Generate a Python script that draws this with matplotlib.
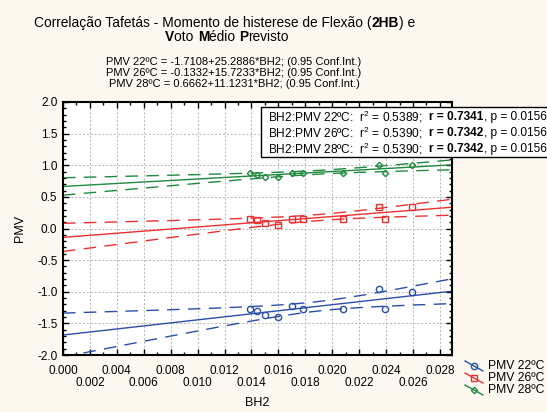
import numpy as np
import matplotlib
import matplotlib.pyplot as plt
from matplotlib.patches import Rectangle
from matplotlib.lines import Line2D
from matplotlib.ticker import MultipleLocator
from matplotlib.transforms import IdentityTransform

plt.rcParams['font.family'] = ['Liberation Sans', 'DejaVu Sans']
plt.rcParams['mathtext.fontset'] = 'custom'
plt.rcParams['mathtext.rm'] = 'Liberation Sans'

# data
bh2 = [0.0139, 0.0144, 0.0150, 0.0160, 0.0170, 0.0178, 0.0208, 0.0235, 0.0239, 0.0259]
pmv22 = [-1.27, -1.30, -1.36, -1.40, -1.23, -1.27, -1.27, -0.96, -1.27, -1.00]
pmv26 = [0.15, 0.13, 0.08, 0.06, 0.15, 0.15, 0.15, 0.34, 0.15, 0.34]
pmv28 = [0.87, 0.84, 0.82, 0.82, 0.88, 0.88, 0.88, 1.00, 0.88, 1.00]

labels = ['PMV 22ºC', 'PMV 26ºC', 'PMV 28ºC']
colors = ['#2b4fa6', '#e83232', '#1f8a3e']
markers = ['o', 's', 'D']
msizes = [4.5, 4.5, 3.2]

equations = ['PMV 22ºC = -1.7108+25.2886*BH2; (0.95 Conf.Int.)',
             'PMV 26ºC = -0.1332+15.7233*BH2; (0.95 Conf.Int.)',
             'PMV 28ºC = 0.6662+11.1231*BH2; (0.95 Conf.Int.)']
r2_vals = ['0.5389', '0.5390', '0.5390']
r_vals = ['0.7341', '0.7342', '0.7342']
p_vals = ['0.0156', '0.0156', '0.0156']

W, H = 547, 412
fig = plt.figure(figsize=(W / 100, H / 100), dpi=100, facecolor='#fcf8ef')
ax = fig.add_axes([63 / W, 1 - 355 / H, (452 - 63) / W, (355 - 102) / H])
ax.set_facecolor('white')

xmin, xmax = 0.0, 0.0289
xs = np.linspace(xmin, xmax, 200)
t_crit = 2.306  # t(0.975, df=8)

x = np.array(bh2)
for yv, c, m, ms in zip([pmv22, pmv26, pmv28], colors, markers, msizes):
    y = np.array(yv)
    b, a = np.polyfit(x, y, 1)
    fit = a + b * xs
    n = len(x)
    s = np.sqrt(np.sum((y - (a + b * x)) ** 2) / (n - 2))
    sxx = np.sum((x - x.mean()) ** 2)
    half = t_crit * s * np.sqrt(1 / n + (xs - x.mean()) ** 2 / sxx)
    ax.plot(xs, fit, color=c, lw=1.0)
    ax.plot(xs, fit + half, color=c, lw=1.0, ls=(0, (9, 6)))
    ax.plot(xs, fit - half, color=c, lw=1.0, ls=(0, (9, 6)))
    ax.plot(x, y, ls='none', marker=m, ms=ms, mfc='none', mec=c, mew=1.0)

ax.set_xlim(xmin, xmax)
ax.set_ylim(-2.0, 2.0)
ax.xaxis.set_minor_locator(MultipleLocator(0.001))
ax.yaxis.set_minor_locator(MultipleLocator(0.1))
ticks = np.arange(0, 0.0281, 0.002)
ax.set_xticks(ticks)
ax.set_xticklabels([('%.3f' % v) if i % 2 == 0 else ('\n%.3f' % v) for i, v in enumerate(ticks)])
for lbl in ax.get_xticklabels():
    lbl.set_linespacing(1.0)
yt = np.arange(-2.0, 2.01, 0.5)
ax.set_yticks(yt)
ax.set_yticklabels(['%.1f' % v for v in yt])
ax.tick_params(which='both', direction='in', top=True, right=True, labelsize=8.5, width=1.0)
ax.tick_params(which='major', length=4)
ax.tick_params(axis='x', which='major', pad=7)
ax.tick_params(axis='y', which='major', pad=4)
ax.tick_params(which='minor', length=2.5)
ax.grid(True, which='major', color='#b5b5b5', ls=(0, (2, 2)), lw=0.7)
for sp in ax.spines.values():
    sp.set_linewidth(1.5)
ax.set_xlabel('BH2', fontsize=9, labelpad=6)
ax.set_ylabel('PMV', fontsize=9, labelpad=8)

rend = fig.canvas.get_renderer()


def text_width(s, size, weight):
    t1 = fig.text(0, 0, '|' + s + '|', fontsize=size, fontweight=weight)
    t2 = fig.text(0, 0, '||', fontsize=size, fontweight=weight)
    w = t1.get_window_extent(rend).width - t2.get_window_extent(rend).width
    t1.remove()
    t2.remove()
    return w


def rich(pieces, y, size, x=None, xc=None):
    widths = [text_width(s, size, w) for s, w in pieces]
    if x is None:
        x = xc - sum(widths) / 2
    for (s, w), wd in zip(pieces, widths):
        fig.text(x, H - y, s, fontsize=size, fontweight=w, va='center', ha='left',
                 transform=IdentityTransform())
        x += wd


# title
rich([('Correlação Tafetás - Momento de histerese de Flexão (', 'normal'), ('2HB', 'bold'),
      (') e', 'normal')], 23, 9.9, xc=225)
rich([('V', 'bold'), ('oto ', 'normal'), ('M', 'bold'), ('édio ', 'normal'),
      ('P', 'bold'), ('revisto', 'normal')], 37, 9.9, xc=227)

for i, eq in enumerate(equations):
    fig.text(234, H - (62 + 11 * i), eq, fontsize=8.0, ha='center', va='center',
             transform=IdentityTransform())

# statistics box (runs off the right edge)
fig.patches.append(Rectangle((261, H - 157), 320, 50, transform=IdentityTransform(),
                             facecolor='white', edgecolor='black', lw=1.0))
for i, lab in enumerate(labels):
    rich([('BH2:%s:  r$^2$ = %s;  ' % (lab, r2_vals[i]), 'normal'),
          ('r = %s' % r_vals[i], 'bold'),
          (', p = %s' % p_vals[i], 'normal')], 117 + 16 * i, 8.6, x=268)

# legend outside the axes
for i, (lab, c, m, ms) in enumerate(zip(labels, colors, markers, msizes)):
    yc = 366 + 12 * i
    fig.add_artist(Line2D([465, 483], [H - yc + 5, H - yc - 5], color=c, lw=1.0,
                          transform=IdentityTransform()))
    fig.add_artist(Line2D([474], [H - yc], ls='none', marker=m, ms=ms, mfc='none', mec=c,
                          mew=1.0, transform=IdentityTransform()))
    fig.text(488, H - yc, lab, fontsize=8.7, va='center', ha='left', transform=IdentityTransform())

fig.savefig('out.png', dpi=100, facecolor=fig.get_facecolor())
